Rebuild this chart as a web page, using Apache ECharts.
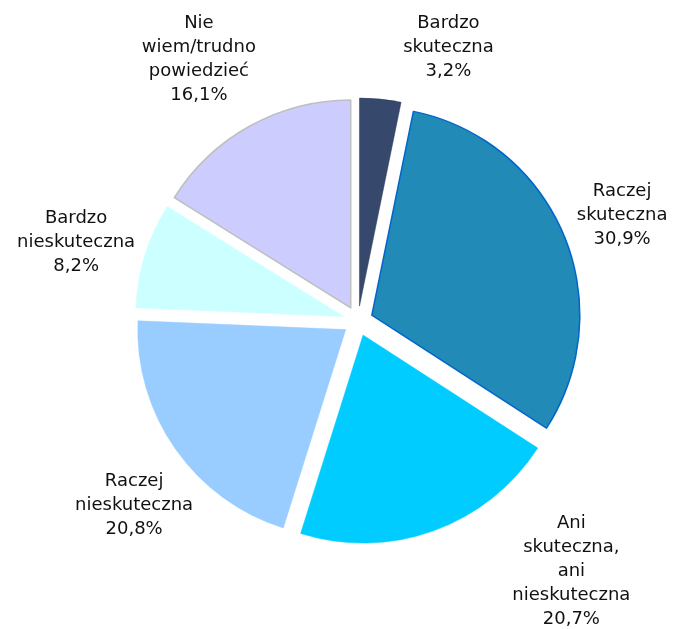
<!DOCTYPE html>
<html><head><meta charset="utf-8">
<script src="https://cdn.jsdelivr.net/npm/echarts@6/dist/echarts.min.js"></script>
<style>html,body{margin:0;padding:0;background:#fff}#c{width:674px;height:629px}</style>
</head><body><div id="c"></div>
<script>
var categories = ['Bardzo\nskuteczna', 'Raczej\nskuteczna', 'Ani\nskuteczna,\nani\nnieskuteczna', 'Raczej\nnieskuteczna', 'Bardzo\nnieskuteczna', 'Nie\nwiem/trudno\npowiedzieć'];
var values = [3.2, 30.9, 20.7, 20.8, 8.2, 16.1];
var colors = ['#36486B', '#228AB6', '#00CCFF', '#99CCFF', '#CCFFFF', '#CCCCFF'];
var borders = ['#2B3A5A', '#0066CC', '#00CCFF', '#99CCFF', '#CCFFFF', '#BFBFBF'];
var labelShift = [[61, 18], [-6, 8], [114, -25], [16, 16], [-2, 8], [-17, -5]];

var center = [358, 321];
var mainData = categories.map(function (c, i) {
  return { name: c, value: values[i], selected: true,
    itemStyle: { color: colors[i], borderColor: borders[i], borderWidth: (i === 1 || i === 5) ? 1.5 : 0.5 } };
});
var labelData = categories.map(function (c, i) { return { name: c, value: values[i] }; });

var chart = echarts.init(document.getElementById('c'), null, { renderer: 'canvas' });
chart.setOption({
  animation: false,
  backgroundColor: '#fff',
  series: [{
    type: 'pie',
    center: center,
    radius: 208,
    startAngle: 90,
    clockwise: true,
    selectedMode: 'multiple',
    selectedOffset: 15,
    label: { show: false },
    labelLine: { show: false },
    emphasis: { disabled: true },
    data: mainData
  }, {
    type: 'pie',
    center: center,
    radius: [200, 380],
    startAngle: 90,
    clockwise: true,
    silent: true,
    itemStyle: { color: 'rgba(0,0,0,0)' },
    emphasis: { disabled: true },
    labelLine: { show: false },
    label: {
      show: true,
      position: 'inside',
      fontFamily: 'DejaVu Sans',
      fontSize: 18,
      lineHeight: 24,
      color: '#111',
      align: 'center',
      formatter: function (p) {
        return p.name + '\n' + p.value.toFixed(1).replace('.', ',') + '%';
      }
    },
    labelLayout: function (p) {
      return { dx: labelShift[p.dataIndex][0], dy: labelShift[p.dataIndex][1] };
    },
    data: labelData
  }]
});
</script></body></html>
